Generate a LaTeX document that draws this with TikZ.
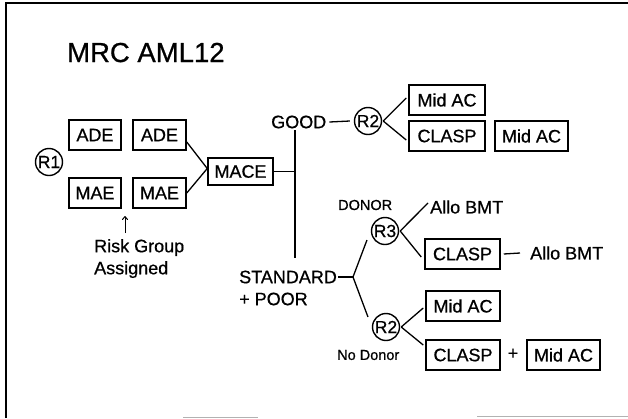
\documentclass[tikz,border=0pt]{standalone}
\usepackage{fontspec}
\setmainfont{Liberation Sans}[FakeBold=0.7]
\usetikzlibrary{arrows.meta}
\begin{document}
\begin{tikzpicture}[x=1pt,y=-1pt,
  box/.style={draw, line width=1.5pt, minimum height=30pt, inner sep=0pt, font=\fontsize{18}{20}\selectfont},
  rnode/.style={circle, draw, line width=1.4pt, minimum size=27pt, inner sep=0pt, font=\fontsize{17.5}{19}\selectfont},
  lbl/.style={inner sep=0pt, font=\fontsize{18}{20}\selectfont},
  small/.style={inner sep=0pt, font=\fontsize{14.5}{16}\selectfont},
  conn/.style={line width=1.3pt}]
\useasboundingbox (0,0) rectangle (628,418);
% frame
\draw[line width=2pt] (6,418) -- (6,3) -- (628,3);
\draw[gray!60, line width=1pt] (183,417) -- (258,417) (477,416) -- (628,416);
% title
\node[lbl, anchor=base west, font=\fontsize{27.5}{30}\selectfont] (title) at (67,62) {MRC AML12};
% left part
\node[rnode] (r1) at (49,162) {R1};
\node[box, minimum width=52pt] (ade1) at (95,135) {ADE};
\node[box, minimum width=53pt] (ade2) at (159.5,135) {ADE};
\node[box, minimum width=52pt] (mae1) at (95,193) {MAE};
\node[box, minimum width=53pt] (mae2) at (159.5,193) {MAE};
\node[box, minimum width=65pt, minimum height=27pt] (mace) at (240.5,171.5) {MACE};
\draw[conn] ([yshift=-7pt]ade2.east) -- ([yshift=3pt]mace.west);
\draw[conn] (mae2.east) -- ([yshift=3pt]mace.west);
% risk group
\node[lbl, anchor=north west, align=left, font=\fontsize{18}{22}\selectfont] (risk) at (94,239) {Risk Group\\Assigned};
\coordinate (arrbase) at (125,233);
\coordinate (arrtip) at (125,216);
\draw[line width=1pt, -{To[length=4pt,width=6pt]}] (arrbase) -- (arrtip);
% vertical split
\coordinate (vtop) at (295,130);
\coordinate (vbot) at (295,258);
\draw[conn] (vtop) -- (vbot);
\draw[conn] (mace.east) -- (mace.east -| vtop);
% GOOD branch
\node[lbl, anchor=west] (good) at (271,122) {GOOD};
\node[rnode] (r2a) at (368,121) {R2};
\draw[conn] ([xshift=3pt]good.east) -- ([xshift=-4pt]r2a.west);
\node[box, minimum width=76pt] (mida) at (447,100) {Mid AC};
\node[box, minimum width=76pt] (claspa) at (447,136) {CLASP};
\node[box, minimum width=73pt] (midaa) at (531.5,136) {Mid AC};
\draw[conn] ([xshift=1pt]r2a.east) -- ([xshift=-2pt,yshift=2pt]mida.west);
\draw[conn] ([xshift=1pt]r2a.east) -- ([xshift=-2pt,yshift=-4pt]claspa.west);
% STANDARD + POOR branch
\node[lbl, anchor=west] (std) at (239,277) {STANDARD};
\node[lbl, anchor=west] (poor) at (239,299) {+ POOR};
\coordinate (sj) at (353,277);
\draw[conn] ([xshift=1pt]std.east) -- (sj);
% donor
\node[small, anchor=west] (donor) at (338,205) {DONOR};
\node[rnode] (r3) at (385,231) {R3};
\draw[conn] (sj) -- ([xshift=-8pt,yshift=1pt]r3.south west);
\node[lbl, anchor=west] (allo1) at (430,207) {Allo BMT};
\node[box, minimum width=75pt] (claspb) at (462.5,254) {CLASP};
\node[lbl, anchor=west] (allo2) at (530,253) {Allo BMT};
\draw[conn] ([xshift=1pt]r3.east) -- ([xshift=-2pt,yshift=4pt]allo1.west);
\draw[conn] ([xshift=1pt]r3.east) -- ([xshift=-3pt,yshift=-3pt]claspb.west);
\draw[conn] ([xshift=3pt]claspb.east) -- ([xshift=-10pt]allo2.west);
% no donor
\node[rnode] (r2b) at (386,327) {R2};
\node[small, anchor=west] (nodonor) at (337,355) {No Donor};
\draw[conn] (sj) -- ([xshift=-8pt]r2b.north west);
\node[box, minimum width=74pt] (midb) at (463,306) {Mid AC};
\node[box, minimum width=74pt] (claspc) at (463,355) {CLASP};
\node[lbl] (plus) at (513,354) {+};
\node[box, minimum width=73pt] (midc) at (563.5,355) {Mid AC};
\draw[conn] ([xshift=1pt]r2b.east) -- ([xshift=-2pt,yshift=-2pt]midb.west);
\draw[conn] ([xshift=1pt]r2b.east) -- ([xshift=-2pt,yshift=10pt]claspc.west);
\end{tikzpicture}
\end{document}
